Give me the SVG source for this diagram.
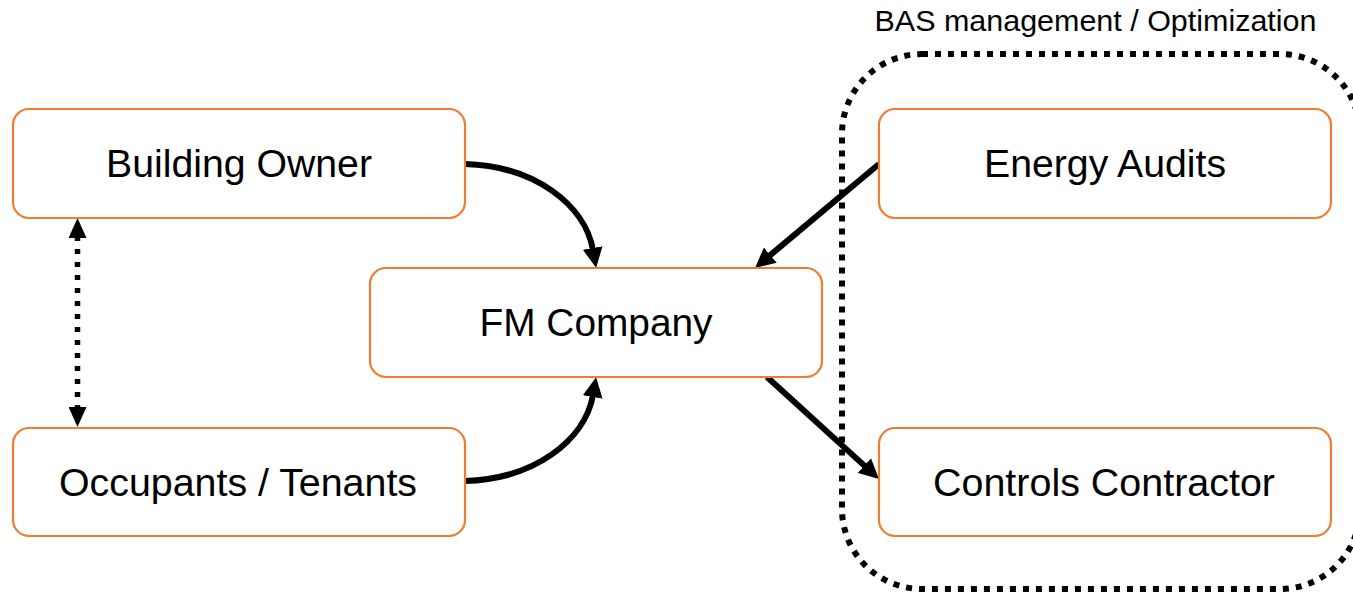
<svg xmlns="http://www.w3.org/2000/svg" width="1353" height="593" viewBox="0 0 1353 593">
<style>
.box{fill:#ffffff;stroke:#ED7D31;stroke-width:2.2}
.lbl{font-family:"Liberation Sans",Arial,sans-serif;font-size:38px;fill:#000;text-anchor:middle}
.ttl{font-family:"Liberation Sans",Arial,sans-serif;font-size:29px;fill:#000;text-anchor:middle}
.conn{fill:none;stroke:#000;stroke-width:6}
.dots{fill:none;stroke:#000;stroke-width:5.5;stroke-dasharray:5 8}
.grp{fill:none;stroke:#000;stroke-width:6;stroke-dasharray:6 7}
</style>
<defs>
<marker id="ah" markerUnits="userSpaceOnUse" markerWidth="20" markerHeight="20" viewBox="0 0 20 20" refX="2" refY="10" orient="auto">
<path d="M0,0 L20,10 L0,20 z" fill="#000"/>
</marker>
<marker id="ah2" markerUnits="userSpaceOnUse" markerWidth="20" markerHeight="18" viewBox="0 0 20 18" refX="2" refY="9" orient="auto-start-reverse">
<path d="M0,0 L20,9 L0,18 z" fill="#000"/>
</marker>
</defs>
<rect width="1353" height="593" fill="#ffffff"/>
<g id="group-bas">
<rect class="grp" x="842" y="54" width="518" height="535" rx="80" ry="80"/>
<text class="ttl" x="1095.5" y="31" textLength="442" lengthAdjust="spacingAndGlyphs">BAS management / Optimization</text>
</g>
<g id="connectors">
<path class="conn" d="M465,164 C535,166 585,205 593,250" marker-end="url(#ah)"/>
<path class="conn" d="M465,481 C535,479 585,440 593,395" marker-end="url(#ah)"/>
<path class="conn" d="M879,164 L768.8,256.4" marker-end="url(#ah)"/>
<path class="conn" d="M767,377 L865.7,466.9" marker-end="url(#ah)"/>
<path class="dots" d="M77.5,236 L77.5,409" marker-start="url(#ah2)" marker-end="url(#ah2)"/>
</g>
<g id="node-building-owner">
<rect class="box" x="13" y="109" width="452" height="109" rx="16"/>
<text class="lbl" x="239" y="177" textLength="266" lengthAdjust="spacingAndGlyphs">Building Owner</text>
</g>
<g id="node-fm-company">
<rect class="box" x="370" y="268" width="452" height="109" rx="16"/>
<text class="lbl" x="596" y="336" textLength="233" lengthAdjust="spacingAndGlyphs">FM Company</text>
</g>
<g id="node-occupants">
<rect class="box" x="13" y="428" width="452" height="108" rx="16"/>
<text class="lbl" x="238" y="495.5" textLength="358" lengthAdjust="spacingAndGlyphs">Occupants / Tenants</text>
</g>
<g id="node-energy-audits">
<rect class="box" x="879" y="109" width="452" height="109" rx="16"/>
<text class="lbl" x="1105" y="177" textLength="242" lengthAdjust="spacingAndGlyphs">Energy Audits</text>
</g>
<g id="node-controls-contractor">
<rect class="box" x="879" y="428" width="452" height="108" rx="16"/>
<text class="lbl" x="1104" y="495.5" textLength="342" lengthAdjust="spacingAndGlyphs">Controls Contractor</text>
</g>
</svg>
